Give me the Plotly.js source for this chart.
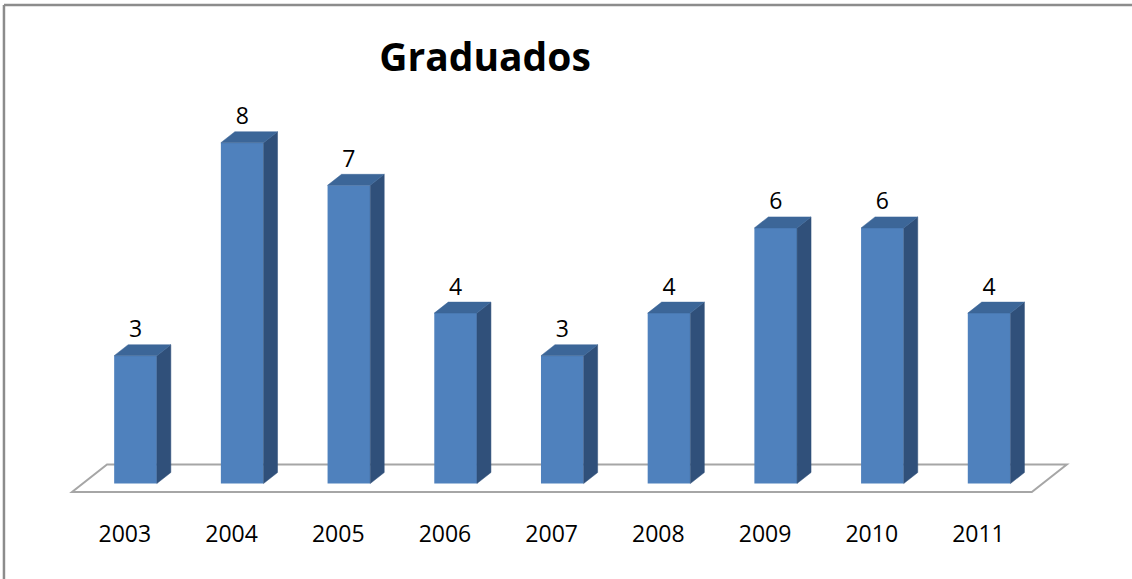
<!DOCTYPE html>
<html>
<head>
<meta charset="utf-8">
<script src="https://cdn.plot.ly/plotly-3.0.1.min.js"></script>
<style>
  html, body { margin: 0; padding: 0; background: #ffffff; }
  #chart { width: 1132px; height: 579px; }
</style>
</head>
<body>
<div id="chart"></div>
<script>
// ---- data ----
const years = ["2003", "2004", "2005", "2006", "2007", "2008", "2009", "2010", "2011"];
const graduados = [3, 8, 7, 4, 3, 4, 6, 6, 4];
const chartTitle = "Graduados";

// ---- style / geometry (in axis units) ----
const frontColor = "#4F81BD";
const sideColor = "#30507A";
const topColor = "#3C6698";
const barW = 0.4;       // front face width
const depX = 0.131;     // depth offset x
const depY = 0.258;     // depth offset y
const fontFam = "'Open Sans', 'DejaVu Sans', sans-serif";

const idx = years.map((_, i) => i);

// side faces and top faces built from the values
const sideX = [], sideY = [], topX = [], topY = [];
idx.forEach(i => {
  const v = graduados[i];
  const r = i + barW / 2, l = i - barW / 2;
  sideX.push(r, r + depX, r + depX, r, r, null);
  sideY.push(0, depY, v + depY, v, 0, null);
  topX.push(l, l + depX, r + depX, r, l, null);
  topY.push(v, v + depY, v + depY, v, v, null);
});

// floor (drawn below the traces)
const fl = -0.595, fr = idx.length - 1 + 0.40, ff = -0.2, fdx = 0.328, fdy = 0.646;
const floorPath = "M " + fl + "," + ff + " L " + fr + "," + ff + " L " + (fr + fdx) + "," + (ff + fdy) +
                  " L " + (fl + fdx) + "," + (ff + fdy) + " Z";

const traces = [
  { type: "bar", x: idx, y: graduados, width: barW, marker: { color: frontColor, line: { width: 0 } },
    hoverinfo: "skip" },
  { type: "scatter", x: sideX, y: sideY, mode: "lines", fill: "toself", fillcolor: sideColor,
    line: { color: sideColor, width: 0.5 }, hoverinfo: "skip", connectgaps: false },
  { type: "scatter", x: topX, y: topY, mode: "lines", fill: "toself", fillcolor: topColor,
    line: { color: topColor, width: 0.5 }, hoverinfo: "skip", connectgaps: false },
  { type: "scatter", x: idx, y: graduados.map(v => v + 0.3), mode: "text",
    text: graduados.map(String), textposition: "top center",
    textfont: { family: fontFam, size: 23, color: "#000000" }, hoverinfo: "skip" }
];

const layout = {
  width: 1132, height: 579,
  margin: { l: 0, r: 0, t: 0, b: 79 },
  paper_bgcolor: "#ffffff", plot_bgcolor: "rgba(0,0,0,0)",
  showlegend: false,
  title: { text: "<b>" + chartTitle + "</b>", x: 485 / 1132, xanchor: "center", xref: "paper",
           y: 1 - 57 / 579, yanchor: "middle", yref: "container",
           font: { family: fontFam, size: 39, color: "#000000" } },
  xaxis: { range: [-1.270, 9.339], tickvals: idx.map(i => i - 0.1), ticktext: years,
           showgrid: false, zeroline: false, showline: false, ticks: "", ticklen: 0,
           ticklabelstandoff: 18,
           tickfont: { family: fontFam, size: 23, color: "#000000" }, fixedrange: true },
  yaxis: { range: [-0.387, 11.35], showgrid: false, zeroline: false, showline: false,
           showticklabels: false, ticks: "", fixedrange: true },
  shapes: [
    { type: "path", xref: "x", yref: "y", path: floorPath, layer: "below",
      fillcolor: "#ffffff", line: { color: "#a6a6a6", width: 2 } },
    { type: "line", xref: "paper", yref: "paper", x0: 0.0035, x1: 1.02, y0: 0.99, y1: 0.99,
      line: { color: "#8c8c8c", width: 2.5 } },
    { type: "line", xref: "paper", yref: "paper", x0: 0.0035, x1: 0.0035, y0: 0.99, y1: -0.3,
      line: { color: "#8c8c8c", width: 2.5 } }
  ]
};

Plotly.newPlot("chart", traces, layout, { displayModeBar: false, staticPlot: true });
</script>
</body>
</html>
